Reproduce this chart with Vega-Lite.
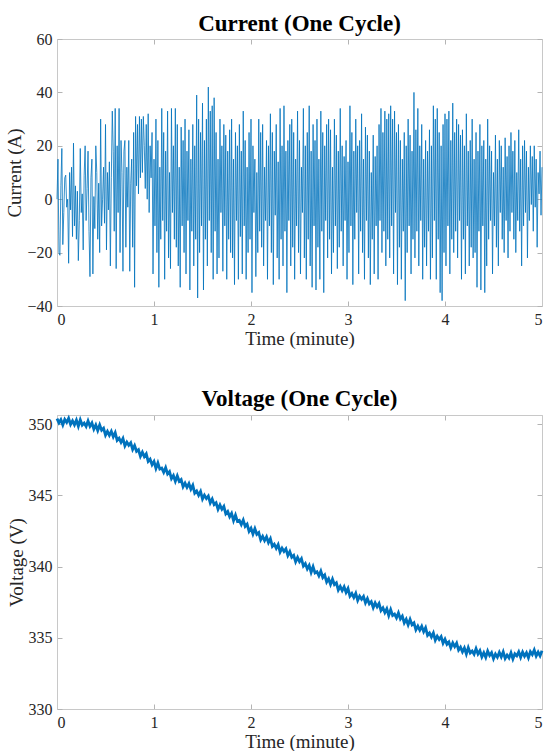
{
  "$schema": "https://vega.github.io/schema/vega-lite/v6.json",
  "background": "white",
  "padding": {"left": 5, "top": 13, "right": 4, "bottom": 0},
  "spacing": 39,
  "datasets": {
    "current": [
      {"t":0.00,"a":0},{"t":0.01,"a":15},{"t":0.02,"a":-20},{"t":0.03,"a":-21},{"t":0.04,"a":5},{"t":0.05,"a":19},{"t":0.06,"a":-17},{"t":0.07,"a":-5},{"t":0.08,"a":8},{"t":0.09,"a":9},
      {"t":0.10,"a":-3},{"t":0.11,"a":0},{"t":0.12,"a":-24},{"t":0.13,"a":10},{"t":0.14,"a":-4},{"t":0.15,"a":12},{"t":0.16,"a":-14},{"t":0.17,"a":21},{"t":0.18,"a":-10},{"t":0.19,"a":5},
      {"t":0.20,"a":-15},{"t":0.21,"a":3},{"t":0.22,"a":-23},{"t":0.23,"a":-8},{"t":0.24,"a":19},{"t":0.25,"a":-5},{"t":0.26,"a":2},{"t":0.27,"a":-19},{"t":0.28,"a":9},{"t":0.29,"a":20},
      {"t":0.30,"a":-8},{"t":0.31,"a":4},{"t":0.32,"a":18},{"t":0.33,"a":-12},{"t":0.34,"a":-29},{"t":0.35,"a":8},{"t":0.36,"a":15},{"t":0.37,"a":-28},{"t":0.38,"a":1},{"t":0.39,"a":-11},
      {"t":0.40,"a":20},{"t":0.41,"a":10},{"t":0.42,"a":-15},{"t":0.43,"a":6},{"t":0.44,"a":-20},{"t":0.45,"a":30},{"t":0.46,"a":-10},{"t":0.47,"a":0},{"t":0.48,"a":12},{"t":0.49,"a":-9},
      {"t":0.50,"a":28},{"t":0.51,"a":-19},{"t":0.52,"a":10},{"t":0.53,"a":-4},{"t":0.54,"a":14},{"t":0.55,"a":-25},{"t":0.56,"a":8},{"t":0.57,"a":33},{"t":0.58,"a":18},{"t":0.59,"a":-12},
      {"t":0.60,"a":34},{"t":0.61,"a":-26},{"t":0.62,"a":20},{"t":0.63,"a":-5},{"t":0.64,"a":34},{"t":0.65,"a":-20},{"t":0.66,"a":22},{"t":0.67,"a":10},{"t":0.68,"a":-27},{"t":0.69,"a":18},
      {"t":0.70,"a":22},{"t":0.71,"a":-18},{"t":0.72,"a":12},{"t":0.73,"a":-3},{"t":0.74,"a":22},{"t":0.75,"a":-27},{"t":0.76,"a":6},{"t":0.77,"a":15},{"t":0.78,"a":-18},{"t":0.79,"a":25},
      {"t":0.80,"a":-33},{"t":0.81,"a":31},{"t":0.82,"a":5},{"t":0.83,"a":28},{"t":0.84,"a":2},{"t":0.85,"a":31},{"t":0.86,"a":8},{"t":0.87,"a":30},{"t":0.88,"a":10},{"t":0.89,"a":31},
      {"t":0.90,"a":20},{"t":0.91,"a":4},{"t":0.92,"a":28},{"t":0.93,"a":0},{"t":0.94,"a":32},{"t":0.95,"a":-5},{"t":0.96,"a":20},{"t":0.97,"a":8},{"t":0.98,"a":25},{"t":0.99,"a":-28},
      {"t":1.00,"a":15},{"t":1.01,"a":-10},{"t":1.02,"a":30},{"t":1.03,"a":-20},{"t":1.04,"a":22},{"t":1.05,"a":-33},{"t":1.06,"a":12},{"t":1.07,"a":-15},{"t":1.08,"a":34},{"t":1.09,"a":-8},
      {"t":1.10,"a":25},{"t":1.11,"a":-30},{"t":1.12,"a":18},{"t":1.13,"a":-12},{"t":1.14,"a":33},{"t":1.15,"a":-22},{"t":1.16,"a":10},{"t":1.17,"a":-26},{"t":1.18,"a":34},{"t":1.19,"a":-5},
      {"t":1.20,"a":20},{"t":1.21,"a":-15},{"t":1.22,"a":34},{"t":1.23,"a":-18},{"t":1.24,"a":28},{"t":1.25,"a":-25},{"t":1.26,"a":12},{"t":1.27,"a":-33},{"t":1.28,"a":27},{"t":1.29,"a":-10},
      {"t":1.30,"a":22},{"t":1.31,"a":-20},{"t":1.32,"a":30},{"t":1.33,"a":-28},{"t":1.34,"a":18},{"t":1.35,"a":-8},{"t":1.36,"a":26},{"t":1.37,"a":-34},{"t":1.38,"a":15},{"t":1.39,"a":-12},
      {"t":1.40,"a":28},{"t":1.41,"a":-25},{"t":1.42,"a":20},{"t":1.43,"a":-15},{"t":1.44,"a":39},{"t":1.45,"a":-37},{"t":1.46,"a":30},{"t":1.47,"a":-20},{"t":1.48,"a":25},{"t":1.49,"a":-10},
      {"t":1.50,"a":36},{"t":1.51,"a":-34},{"t":1.52,"a":22},{"t":1.53,"a":-15},{"t":1.54,"a":30},{"t":1.55,"a":-25},{"t":1.56,"a":42},{"t":1.57,"a":-8},{"t":1.58,"a":33},{"t":1.59,"a":-20},
      {"t":1.60,"a":35},{"t":1.61,"a":-30},{"t":1.62,"a":38},{"t":1.63,"a":-12},{"t":1.64,"a":25},{"t":1.65,"a":-28},{"t":1.66,"a":15},{"t":1.67,"a":-22},{"t":1.68,"a":30},{"t":1.69,"a":-5},
      {"t":1.70,"a":20},{"t":1.71,"a":-27},{"t":1.72,"a":28},{"t":1.73,"a":-10},{"t":1.74,"a":24},{"t":1.75,"a":-30},{"t":1.76,"a":18},{"t":1.77,"a":-15},{"t":1.78,"a":26},{"t":1.79,"a":-20},
      {"t":1.80,"a":30},{"t":1.81,"a":-22},{"t":1.82,"a":15},{"t":1.83,"a":-32},{"t":1.84,"a":25},{"t":1.85,"a":-8},{"t":1.86,"a":20},{"t":1.87,"a":-30},{"t":1.88,"a":28},{"t":1.89,"a":-14},
      {"t":1.90,"a":18},{"t":1.91,"a":-28},{"t":1.92,"a":33},{"t":1.93,"a":-10},{"t":1.94,"a":22},{"t":1.95,"a":-30},{"t":1.96,"a":12},{"t":1.97,"a":-20},{"t":1.98,"a":25},{"t":1.99,"a":-15},
      {"t":2.00,"a":30},{"t":2.01,"a":-35},{"t":2.02,"a":20},{"t":2.03,"a":-5},{"t":2.04,"a":15},{"t":2.05,"a":-29},{"t":2.06,"a":10},{"t":2.07,"a":-20},{"t":2.08,"a":30},{"t":2.09,"a":-12},
      {"t":2.10,"a":25},{"t":2.11,"a":-18},{"t":2.12,"a":28},{"t":2.13,"a":-25},{"t":2.14,"a":12},{"t":2.15,"a":-8},{"t":2.16,"a":22},{"t":2.17,"a":-30},{"t":2.18,"a":20},{"t":2.19,"a":-10},
      {"t":2.20,"a":32},{"t":2.21,"a":-20},{"t":2.22,"a":25},{"t":2.23,"a":-32},{"t":2.24,"a":18},{"t":2.25,"a":-6},{"t":2.26,"a":28},{"t":2.27,"a":-22},{"t":2.28,"a":14},{"t":2.29,"a":-30},
      {"t":2.30,"a":34},{"t":2.31,"a":-15},{"t":2.32,"a":20},{"t":2.33,"a":-25},{"t":2.34,"a":35},{"t":2.35,"a":-12},{"t":2.36,"a":18},{"t":2.37,"a":-35},{"t":2.38,"a":22},{"t":2.39,"a":-8},
      {"t":2.40,"a":28},{"t":2.41,"a":-25},{"t":2.42,"a":30},{"t":2.43,"a":-18},{"t":2.44,"a":25},{"t":2.45,"a":-30},{"t":2.46,"a":15},{"t":2.47,"a":-10},{"t":2.48,"a":33},{"t":2.49,"a":-20},
      {"t":2.50,"a":22},{"t":2.51,"a":-28},{"t":2.52,"a":12},{"t":2.53,"a":-5},{"t":2.54,"a":34},{"t":2.55,"a":-22},{"t":2.56,"a":20},{"t":2.57,"a":-30},{"t":2.58,"a":25},{"t":2.59,"a":-15},
      {"t":2.60,"a":35},{"t":2.61,"a":-25},{"t":2.62,"a":18},{"t":2.63,"a":-33},{"t":2.64,"a":28},{"t":2.65,"a":-10},{"t":2.66,"a":22},{"t":2.67,"a":-34},{"t":2.68,"a":30},{"t":2.69,"a":-18},
      {"t":2.70,"a":15},{"t":2.71,"a":-30},{"t":2.72,"a":33},{"t":2.73,"a":-12},{"t":2.74,"a":25},{"t":2.75,"a":-35},{"t":2.76,"a":20},{"t":2.77,"a":-8},{"t":2.78,"a":28},{"t":2.79,"a":-22},
      {"t":2.80,"a":30},{"t":2.81,"a":-15},{"t":2.82,"a":26},{"t":2.83,"a":-28},{"t":2.84,"a":12},{"t":2.85,"a":-20},{"t":2.86,"a":30},{"t":2.87,"a":-10},{"t":2.88,"a":24},{"t":2.89,"a":-26},
      {"t":2.90,"a":18},{"t":2.91,"a":-18},{"t":2.92,"a":34},{"t":2.93,"a":-12},{"t":2.94,"a":20},{"t":2.95,"a":-25},{"t":2.96,"a":16},{"t":2.97,"a":-8},{"t":2.98,"a":22},{"t":2.99,"a":-30},
      {"t":3.00,"a":14},{"t":3.01,"a":-20},{"t":3.02,"a":35},{"t":3.03,"a":-10},{"t":3.04,"a":25},{"t":3.05,"a":-32},{"t":3.06,"a":18},{"t":3.07,"a":-15},{"t":3.08,"a":30},{"t":3.09,"a":-5},
      {"t":3.10,"a":20},{"t":3.11,"a":-28},{"t":3.12,"a":22},{"t":3.13,"a":-12},{"t":3.14,"a":32},{"t":3.15,"a":-20},{"t":3.16,"a":15},{"t":3.17,"a":-30},{"t":3.18,"a":27},{"t":3.19,"a":-8},
      {"t":3.20,"a":24},{"t":3.21,"a":-22},{"t":3.22,"a":18},{"t":3.23,"a":-32},{"t":3.24,"a":10},{"t":3.25,"a":-15},{"t":3.26,"a":24},{"t":3.27,"a":-28},{"t":3.28,"a":16},{"t":3.29,"a":-10},
      {"t":3.30,"a":20},{"t":3.31,"a":-30},{"t":3.32,"a":28},{"t":3.33,"a":-8},{"t":3.34,"a":34},{"t":3.35,"a":-20},{"t":3.36,"a":25},{"t":3.37,"a":-12},{"t":3.38,"a":33},{"t":3.39,"a":-25},
      {"t":3.40,"a":30},{"t":3.41,"a":-15},{"t":3.42,"a":32},{"t":3.43,"a":-22},{"t":3.44,"a":35},{"t":3.45,"a":-10},{"t":3.46,"a":30},{"t":3.47,"a":-28},{"t":3.48,"a":33},{"t":3.49,"a":-5},
      {"t":3.50,"a":25},{"t":3.51,"a":-32},{"t":3.52,"a":28},{"t":3.53,"a":-18},{"t":3.54,"a":22},{"t":3.55,"a":-30},{"t":3.56,"a":15},{"t":3.57,"a":-12},{"t":3.58,"a":25},{"t":3.59,"a":-38},
      {"t":3.60,"a":20},{"t":3.61,"a":-20},{"t":3.62,"a":30},{"t":3.63,"a":-10},{"t":3.64,"a":24},{"t":3.65,"a":-28},{"t":3.66,"a":18},{"t":3.67,"a":-15},{"t":3.68,"a":40},{"t":3.69,"a":-22},
      {"t":3.70,"a":26},{"t":3.71,"a":-12},{"t":3.72,"a":34},{"t":3.73,"a":-25},{"t":3.74,"a":20},{"t":3.75,"a":-8},{"t":3.76,"a":28},{"t":3.77,"a":-30},{"t":3.78,"a":15},{"t":3.79,"a":-18},
      {"t":3.80,"a":22},{"t":3.81,"a":-25},{"t":3.82,"a":18},{"t":3.83,"a":-12},{"t":3.84,"a":26},{"t":3.85,"a":-30},{"t":3.86,"a":20},{"t":3.87,"a":-22},{"t":3.88,"a":35},{"t":3.89,"a":-8},
      {"t":3.90,"a":30},{"t":3.91,"a":-30},{"t":3.92,"a":34},{"t":3.93,"a":-15},{"t":3.94,"a":25},{"t":3.95,"a":-35},{"t":3.96,"a":20},{"t":3.97,"a":-38},{"t":3.98,"a":28},{"t":3.99,"a":-20},
      {"t":4.00,"a":32},{"t":4.01,"a":-25},{"t":4.02,"a":30},{"t":4.03,"a":-10},{"t":4.04,"a":33},{"t":4.05,"a":-28},{"t":4.06,"a":22},{"t":4.07,"a":-15},{"t":4.08,"a":36},{"t":4.09,"a":-20},
      {"t":4.10,"a":25},{"t":4.11,"a":-12},{"t":4.12,"a":30},{"t":4.13,"a":-22},{"t":4.14,"a":28},{"t":4.15,"a":-8},{"t":4.16,"a":24},{"t":4.17,"a":-30},{"t":4.18,"a":26},{"t":4.19,"a":-15},
      {"t":4.20,"a":20},{"t":4.21,"a":-28},{"t":4.22,"a":32},{"t":4.23,"a":-10},{"t":4.24,"a":18},{"t":4.25,"a":-25},{"t":4.26,"a":22},{"t":4.27,"a":-18},{"t":4.28,"a":30},{"t":4.29,"a":-22},
      {"t":4.30,"a":15},{"t":4.31,"a":-20},{"t":4.32,"a":25},{"t":4.33,"a":-33},{"t":4.34,"a":18},{"t":4.35,"a":-12},{"t":4.36,"a":28},{"t":4.37,"a":-34},{"t":4.38,"a":20},{"t":4.39,"a":-10},
      {"t":4.40,"a":22},{"t":4.41,"a":-35},{"t":4.42,"a":15},{"t":4.43,"a":-25},{"t":4.44,"a":30},{"t":4.45,"a":-15},{"t":4.46,"a":20},{"t":4.47,"a":-8},{"t":4.48,"a":18},{"t":4.49,"a":-28},
      {"t":4.50,"a":10},{"t":4.51,"a":-10},{"t":4.52,"a":24},{"t":4.53,"a":-18},{"t":4.54,"a":15},{"t":4.55,"a":-25},{"t":4.56,"a":22},{"t":4.57,"a":-5},{"t":4.58,"a":20},{"t":4.59,"a":-15},
      {"t":4.60,"a":12},{"t":4.61,"a":-20},{"t":4.62,"a":23},{"t":4.63,"a":-8},{"t":4.64,"a":16},{"t":4.65,"a":-22},{"t":4.66,"a":20},{"t":4.67,"a":-12},{"t":4.68,"a":25},{"t":4.69,"a":-5},
      {"t":4.70,"a":18},{"t":4.71,"a":-15},{"t":4.72,"a":22},{"t":4.73,"a":-20},{"t":4.74,"a":10},{"t":4.75,"a":-8},{"t":4.76,"a":26},{"t":4.77,"a":-12},{"t":4.78,"a":15},{"t":4.79,"a":-25},
      {"t":4.80,"a":20},{"t":4.81,"a":-10},{"t":4.82,"a":22},{"t":4.83,"a":-5},{"t":4.84,"a":18},{"t":4.85,"a":-22},{"t":4.86,"a":12},{"t":4.87,"a":-8},{"t":4.88,"a":20},{"t":4.89,"a":-2},
      {"t":4.90,"a":16},{"t":4.91,"a":-12},{"t":4.92,"a":20},{"t":4.93,"a":-3},{"t":4.94,"a":15},{"t":4.95,"a":-18},{"t":4.96,"a":10},{"t":4.97,"a":2},{"t":4.98,"a":18},{"t":4.99,"a":-6},
      {"t":5.00,"a":12}
    ],
    "voltage": [
      {"t":0.00,"v":350.4},{"t":0.02,"v":350.1},{"t":0.04,"v":350.32},{"t":0.06,"v":349.95},{"t":0.08,"v":350.34},{"t":0.10,"v":350.13},{"t":0.12,"v":350.42},{"t":0.14,"v":349.99},{"t":0.16,"v":350.24},{"t":0.18,"v":349.96},
      {"t":0.20,"v":350.29},{"t":0.22,"v":349.86},{"t":0.24,"v":350.31},{"t":0.26,"v":349.94},{"t":0.28,"v":350.08},{"t":0.30,"v":349.85},{"t":0.32,"v":350.24},{"t":0.34,"v":349.86},{"t":0.36,"v":350.09},{"t":0.38,"v":349.66},
      {"t":0.40,"v":349.95},{"t":0.42,"v":349.56},{"t":0.44,"v":349.95},{"t":0.46,"v":349.58},{"t":0.48,"v":349.72},{"t":0.50,"v":349.23},{"t":0.52,"v":349.5},{"t":0.54,"v":349.22},{"t":0.56,"v":349.5},{"t":0.58,"v":349.12},
      {"t":0.60,"v":349.41},{"t":0.62,"v":348.87},{"t":0.64,"v":349.02},{"t":0.66,"v":348.73},{"t":0.68,"v":349.0},{"t":0.70,"v":348.48},{"t":0.72,"v":348.75},{"t":0.74,"v":348.52},{"t":0.76,"v":348.7},{"t":0.78,"v":348.23},
      {"t":0.80,"v":348.5},{"t":0.82,"v":348.1},{"t":0.84,"v":348.21},{"t":0.86,"v":347.75},{"t":0.88,"v":348.04},{"t":0.90,"v":347.73},{"t":0.92,"v":347.92},{"t":0.94,"v":347.39},{"t":0.96,"v":347.54},{"t":0.98,"v":347.16},
      {"t":1.00,"v":347.39},{"t":1.02,"v":346.9},{"t":1.04,"v":347.28},{"t":1.06,"v":346.85},{"t":1.08,"v":346.92},{"t":1.10,"v":346.63},{"t":1.12,"v":346.95},{"t":1.14,"v":346.51},{"t":1.16,"v":346.67},{"t":1.18,"v":346.18},
      {"t":1.20,"v":346.4},{"t":1.22,"v":346.0},{"t":1.24,"v":346.37},{"t":1.26,"v":345.99},{"t":1.28,"v":346.11},{"t":1.30,"v":345.61},{"t":1.32,"v":345.86},{"t":1.34,"v":345.57},{"t":1.36,"v":345.83},{"t":1.38,"v":345.44},
      {"t":1.40,"v":345.71},{"t":1.42,"v":345.16},{"t":1.44,"v":345.31},{"t":1.46,"v":345.01},{"t":1.48,"v":345.28},{"t":1.50,"v":344.75},{"t":1.52,"v":345.02},{"t":1.54,"v":344.78},{"t":1.56,"v":344.96},{"t":1.58,"v":344.48},
      {"t":1.60,"v":344.75},{"t":1.62,"v":344.36},{"t":1.64,"v":344.48},{"t":1.66,"v":344.03},{"t":1.68,"v":344.33},{"t":1.70,"v":344.03},{"t":1.72,"v":344.23},{"t":1.74,"v":343.71},{"t":1.76,"v":343.87},{"t":1.78,"v":343.5},
      {"t":1.80,"v":343.74},{"t":1.82,"v":343.24},{"t":1.84,"v":343.62},{"t":1.86,"v":343.18},{"t":1.88,"v":343.25},{"t":1.90,"v":342.95},{"t":1.92,"v":343.27},{"t":1.94,"v":342.82},{"t":1.96,"v":342.98},{"t":1.98,"v":342.48},
      {"t":2.00,"v":342.7},{"t":2.02,"v":342.29},{"t":2.04,"v":342.66},{"t":2.06,"v":342.27},{"t":2.08,"v":342.39},{"t":2.10,"v":341.88},{"t":2.12,"v":342.13},{"t":2.14,"v":341.83},{"t":2.16,"v":342.09},{"t":2.18,"v":341.69},
      {"t":2.20,"v":341.96},{"t":2.22,"v":341.42},{"t":2.24,"v":341.57},{"t":2.26,"v":341.28},{"t":2.28,"v":341.55},{"t":2.30,"v":341.03},{"t":2.32,"v":341.3},{"t":2.34,"v":341.07},{"t":2.36,"v":341.25},{"t":2.38,"v":340.78},
      {"t":2.40,"v":341.05},{"t":2.42,"v":340.66},{"t":2.44,"v":340.79},{"t":2.46,"v":340.34},{"t":2.48,"v":340.65},{"t":2.50,"v":340.35},{"t":2.52,"v":340.56},{"t":2.54,"v":340.04},{"t":2.56,"v":340.21},{"t":2.58,"v":339.84},
      {"t":2.60,"v":340.09},{"t":2.62,"v":339.6},{"t":2.64,"v":339.99},{"t":2.66,"v":339.56},{"t":2.68,"v":339.64},{"t":2.70,"v":339.35},{"t":2.72,"v":339.68},{"t":2.74,"v":339.24},{"t":2.76,"v":339.41},{"t":2.78,"v":338.92},
      {"t":2.80,"v":339.15},{"t":2.82,"v":338.75},{"t":2.84,"v":339.12},{"t":2.86,"v":338.74},{"t":2.88,"v":338.86},{"t":2.90,"v":338.36},{"t":2.92,"v":338.61},{"t":2.94,"v":338.32},{"t":2.96,"v":338.58},{"t":2.98,"v":338.19},
      {"t":3.00,"v":338.46},{"t":3.02,"v":337.93},{"t":3.04,"v":338.11},{"t":3.06,"v":337.83},{"t":3.08,"v":338.13},{"t":3.10,"v":337.63},{"t":3.12,"v":337.92},{"t":3.14,"v":337.71},{"t":3.16,"v":337.91},{"t":3.18,"v":337.46},
      {"t":3.20,"v":337.75},{"t":3.22,"v":337.39},{"t":3.24,"v":337.54},{"t":3.26,"v":337.12},{"t":3.28,"v":337.45},{"t":3.30,"v":337.18},{"t":3.32,"v":337.41},{"t":3.34,"v":336.92},{"t":3.36,"v":337.11},{"t":3.38,"v":336.77},
      {"t":3.40,"v":337.04},{"t":3.42,"v":336.57},{"t":3.44,"v":336.98},{"t":3.46,"v":336.57},{"t":3.48,"v":336.67},{"t":3.50,"v":336.4},{"t":3.52,"v":336.75},{"t":3.54,"v":336.33},{"t":3.56,"v":336.52},{"t":3.58,"v":336.05},
      {"t":3.60,"v":336.3},{"t":3.62,"v":335.91},{"t":3.64,"v":336.29},{"t":3.66,"v":335.92},{"t":3.68,"v":336.05},{"t":3.70,"v":335.56},{"t":3.72,"v":335.82},{"t":3.74,"v":335.54},{"t":3.76,"v":335.81},{"t":3.78,"v":335.43},
      {"t":3.80,"v":335.71},{"t":3.82,"v":335.18},{"t":3.84,"v":335.34},{"t":3.86,"v":335.06},{"t":3.88,"v":335.34},{"t":3.90,"v":334.83},{"t":3.92,"v":335.11},{"t":3.94,"v":334.89},{"t":3.96,"v":335.08},{"t":3.98,"v":334.62},
      {"t":4.00,"v":334.9},{"t":4.02,"v":334.55},{"t":4.04,"v":334.71},{"t":4.06,"v":334.3},{"t":4.08,"v":334.64},{"t":4.10,"v":334.38},{"t":4.12,"v":334.62},{"t":4.14,"v":334.14},{"t":4.16,"v":334.34},{"t":4.18,"v":334.01},
      {"t":4.20,"v":334.29},{"t":4.22,"v":333.86},{"t":4.24,"v":334.31},{"t":4.26,"v":333.94},{"t":4.28,"v":334.08},{"t":4.30,"v":333.85},{"t":4.32,"v":334.24},{"t":4.34,"v":333.86},{"t":4.36,"v":334.09},{"t":4.38,"v":333.66},
      {"t":4.40,"v":333.95},{"t":4.42,"v":333.62},{"t":4.44,"v":334.07},{"t":4.46,"v":333.76},{"t":4.48,"v":333.96},{"t":4.50,"v":333.53},{"t":4.52,"v":333.86},{"t":4.54,"v":333.64},{"t":4.56,"v":333.98},{"t":4.58,"v":333.66},
      {"t":4.60,"v":334.01},{"t":4.62,"v":333.55},{"t":4.64,"v":333.79},{"t":4.66,"v":333.59},{"t":4.68,"v":333.95},{"t":4.70,"v":333.52},{"t":4.72,"v":333.88},{"t":4.74,"v":333.74},{"t":4.76,"v":334.02},{"t":4.78,"v":333.63},
      {"t":4.80,"v":334.0},{"t":4.82,"v":333.71},{"t":4.84,"v":333.95},{"t":4.86,"v":333.6},{"t":4.88,"v":334.02},{"t":4.90,"v":333.82},{"t":4.92,"v":334.14},{"t":4.94,"v":333.72},{"t":4.96,"v":334.0},{"t":4.98,"v":333.73},
      {"t":5.00,"v":334.09}
    ]
  },
  "vconcat": [
    {
      "title": {"text": "Current (One Cycle)", "offset": -5},
      "width": 485,
      "height": 267,
      "data": {"name": "current"},
      "layer": [
        {
          "mark": {"type": "line", "color": "#0072bd", "strokeWidth": 0.8},
          "encoding": {
            "x": {"field": "t", "type": "quantitative", "scale": {"domain": [0, 5], "nice": false},
                  "axis": {"title": "Time (minute)", "values": [0, 1, 2, 3, 4, 5]}},
            "y": {"field": "a", "type": "quantitative", "scale": {"domain": [-40, 60], "nice": false},
                  "axis": {"title": "Current (A)", "values": [-40, -20, 0, 20, 40, 60]}}
          }
        },
        {
          "mark": {"type": "line", "opacity": 0},
          "encoding": {
            "x": {"field": "t", "type": "quantitative",
                  "axis": {"orient": "top", "labels": false, "title": null, "labelPadding": 0, "minExtent": 0, "maxExtent": 0, "values": [0, 1, 2, 3, 4, 5]}},
            "y": {"field": "a", "type": "quantitative",
                  "axis": {"orient": "right", "labels": false, "title": null, "labelPadding": 0, "minExtent": 0, "maxExtent": 0, "values": [-40, -20, 0, 20, 40, 60]}}
          }
        }
      ],
      "resolve": {"axis": {"x": "independent", "y": "independent"}}
    },
    {
      "title": {"text": "Voltage (One Cycle)", "offset": 2},
      "width": 485,
      "height": 294,
      "data": {"name": "voltage"},
      "layer": [
        {
          "mark": {"type": "line", "color": "#0072bd", "strokeWidth": 2.8},
          "encoding": {
            "x": {"field": "t", "type": "quantitative", "scale": {"domain": [0, 5], "nice": false},
                  "axis": {"title": "Time (minute)", "values": [0, 1, 2, 3, 4, 5]}},
            "y": {"field": "v", "type": "quantitative", "scale": {"domain": [330, 350.65], "nice": false, "zero": false},
                  "axis": {"title": "Voltage (V)", "values": [330, 335, 340, 345, 350]}}
          }
        },
        {
          "mark": {"type": "line", "opacity": 0},
          "encoding": {
            "x": {"field": "t", "type": "quantitative",
                  "axis": {"orient": "top", "labels": false, "title": null, "labelPadding": 0, "minExtent": 0, "maxExtent": 0, "values": [0, 1, 2, 3, 4, 5]}},
            "y": {"field": "v", "type": "quantitative",
                  "axis": {"orient": "right", "labels": false, "title": null, "labelPadding": 0, "minExtent": 0, "maxExtent": 0, "values": [330, 335, 340, 345, 350]}}
          }
        }
      ],
      "resolve": {"axis": {"x": "independent", "y": "independent"}}
    }
  ],
  "config": {
    "font": "Liberation Serif",
    "view": {"stroke": null},
    "title": {"font": "Liberation Serif", "fontSize": 23, "fontWeight": "bold", "color": "#000000", "anchor": "middle", "frame": "group"},
    "axis": {
      "grid": false,
      "domainColor": "#c8c8c8",
      "domainWidth": 1,
      "tickColor": "#b4b4b4",
      "tickSize": -5,
      "labelFont": "Liberation Serif",
      "labelFontSize": 16,
      "labelColor": "#262626",
      "labelPadding": 10,
      "titleFont": "Liberation Serif",
      "titleFontSize": 19,
      "titleFontWeight": "normal",
      "titleColor": "#262626",
      "titlePadding": 2
    }
  }
}
